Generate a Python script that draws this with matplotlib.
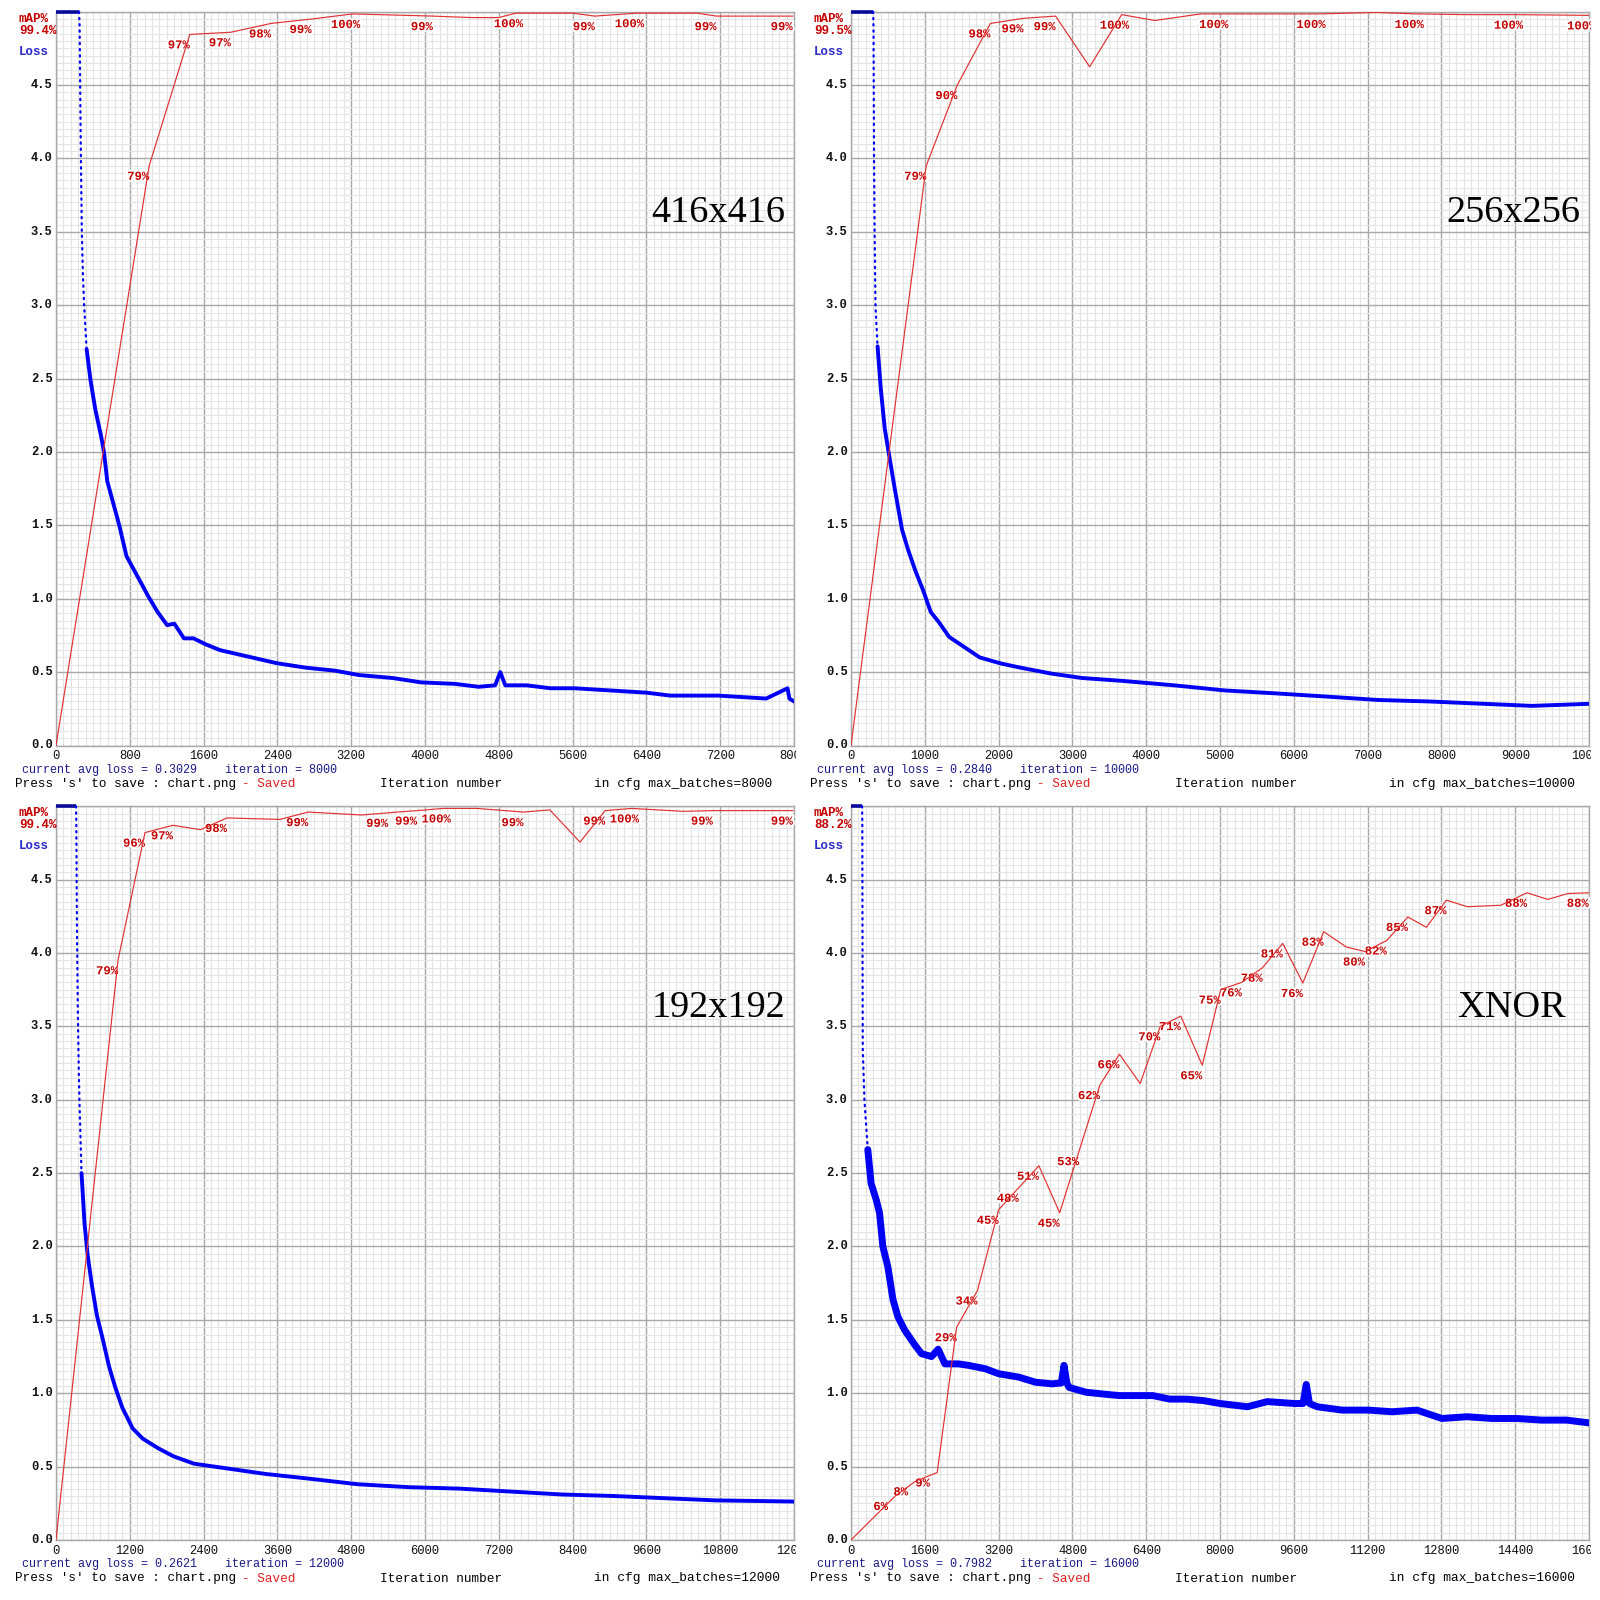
import numpy as np
import matplotlib
matplotlib.use("Agg")
import matplotlib.pyplot as plt
import matplotlib.patheffects as pe
from matplotlib.transforms import Bbox, TransformedBbox

# ---------------- data ----------------
TITLES = ["416x416", "256x256", "192x192", "XNOR"]
MAX_BATCHES = [8000, 10000, 12000, 16000]
CUR_AVG_LOSS = ["0.3029", "0.2840", "0.2621", "0.7982"]

# avg loss (values above 5 are drawn clipped at the top edge)
TL_LOSS_IT = [0, 250, 256, 262, 270, 280, 292, 305, 332, 374,
              426, 488, 520, 556, 608, 686, 764, 842, 920, 997,
              1101, 1205, 1283, 1387, 1491, 1621, 1777, 1984, 2192, 2400,
              2712, 3023, 3283, 3647, 3959, 4322, 4582, 4760, 4816, 4870,
              5101, 5361, 5621, 5881, 6140, 6400, 6660, 6920, 7180, 7439,
              7699, 7930, 7950, 8000]
TL_LOSS = [6.0, 6.0, 4.9, 4.5, 4.0, 3.5, 3.2, 3.0, 2.70, 2.49,
           2.29, 2.11, 2.00, 1.80, 1.68, 1.50, 1.29, 1.20, 1.11, 1.02,
           0.91, 0.82, 0.83, 0.73, 0.73, 0.69, 0.65, 0.62, 0.59, 0.56,
           0.53, 0.51, 0.48, 0.46, 0.43, 0.42, 0.40, 0.41, 0.50, 0.41,
           0.41, 0.39, 0.39, 0.38, 0.37, 0.36, 0.34, 0.34, 0.34, 0.33,
           0.32, 0.39, 0.32, 0.30]

TR_LOSS_IT = [0, 300, 305, 312, 320, 332, 360, 402, 457, 526,
              596, 692, 776, 873, 983, 1080, 1191, 1330, 1537, 1745,
              2022, 2299, 2715, 3130, 3684, 4377, 5069, 5762, 6454, 7147,
              7839, 8532, 9224, 10000]
TR_LOSS = [6.0, 6.0, 4.9, 4.0, 3.5, 2.99, 2.72, 2.44, 2.16, 1.95,
           1.74, 1.47, 1.33, 1.19, 1.05, 0.91, 0.84, 0.74, 0.67, 0.60,
           0.56, 0.53, 0.49, 0.46, 0.44, 0.41, 0.375, 0.355, 0.333, 0.31,
           0.30, 0.285, 0.27, 0.284]

BL_LOSS_IT = [0, 325, 330, 340, 355, 370, 382, 415, 465, 515,
              582, 665, 748, 864, 964, 1080, 1247, 1413, 1662, 1911,
              2244, 2742, 3407, 4072, 4903, 5734, 6565, 7396, 8227, 9058,
              9889, 10720, 12000]
BL_LOSS = [6.0, 6.0, 4.9, 4.2, 3.6, 3.2, 2.98, 2.5, 2.15, 1.94,
           1.74, 1.53, 1.39, 1.18, 1.04, 0.90, 0.76, 0.69, 0.625, 0.57,
           0.52, 0.49, 0.45, 0.42, 0.38, 0.36, 0.35, 0.33, 0.31, 0.30,
           0.285, 0.27, 0.262]

BR_LOSS_IT = [0, 240, 245, 250, 255, 291, 364, 436, 545, 618,
              691, 800, 909, 1018, 1164, 1382, 1527, 1745, 1890, 2036,
              2327, 2545, 2909, 3200, 3636, 4000, 4364, 4560, 4618, 4680,
              4727, 5091, 5455, 5818, 6182, 6545, 6909, 7273, 7636, 8000,
              8595, 9027, 9611, 9800, 9870, 9940, 10108, 10649, 11222, 11730,
              12270, 12811, 13351, 13892, 14432, 14973, 15514, 16000]
BR_LOSS = [6.0, 6.0, 4.9, 4.0, 3.34, 3.0, 2.66, 2.43, 2.32, 2.23,
           2.0, 1.86, 1.64, 1.52, 1.43, 1.33, 1.27, 1.25, 1.30, 1.20,
           1.20, 1.19, 1.167, 1.133, 1.11, 1.075, 1.064, 1.07, 1.19, 1.07,
           1.04, 1.007, 0.995, 0.984, 0.984, 0.984, 0.96, 0.96, 0.95, 0.93,
           0.908, 0.943, 0.93, 0.93, 1.06, 0.93, 0.908, 0.885, 0.885, 0.874,
           0.885, 0.828, 0.84, 0.828, 0.828, 0.817, 0.817, 0.798]

# mAP (%) at evaluation iterations; LAB = 1 where a value label is printed
TL_MAP_IT = [0, 1010, 1450, 1895, 2330, 2770, 3218, 4085, 4500, 4800, 4984, 5600, 5840, 6295, 6950, 7160, 7985]
TL_MAP = [0, 79, 96.9, 97.2, 98.4, 99.0, 99.7, 99.4, 99.2, 99.2, 99.8, 99.8, 99.4, 99.8, 99.8, 99.4, 99.4]
TL_LAB = [0, 1, 1, 1, 1, 1, 1, 1, 0, 0, 1, 0, 1, 1, 0, 1, 1]

TR_MAP_IT = [0, 1019, 1440, 1889, 2337, 2772, 3234, 3668, 4117, 4742, 5014, 6332, 7120, 7663, 8342, 9008, 10000]
TR_MAP = [0, 79, 90, 98.4, 99.1, 99.4, 92.5, 99.6, 98.8, 99.7, 99.7, 99.7, 99.9, 99.7, 99.6, 99.6, 99.5]
TR_LAB = [0, 1, 1, 1, 1, 1, 0, 1, 0, 0, 1, 1, 0, 1, 0, 1, 1]

BL_MAP_IT = [0, 1008, 1447, 1900, 2350, 2780, 3640, 4100, 4970, 5400, 5870, 6300, 6840, 7600, 8030, 8520, 8930, 9360, 10200, 10680, 11980]
BL_MAP = [0, 79, 96.4, 97.4, 96.8, 98.4, 98.2, 99.2, 98.8, 99.1, 99.4, 99.7, 99.7, 99.2, 99.5, 95.1, 99.4, 99.7, 99.3, 99.4, 99.4]
BL_LAB = [0, 1, 1, 1, 0, 1, 0, 1, 0, 1, 1, 1, 0, 1, 0, 0, 1, 1, 0, 1, 1]

BR_MAP_IT = [0, 960, 1396, 1869, 2290, 2742, 3200, 3636, 4073, 4524,
             4945, 5396, 5820, 6269, 6705, 7150, 7615, 8015, 8473, 8924,
             9360, 9796, 10247, 10742, 11142, 11615, 12073, 12473, 12909, 13360,
             14087, 14655, 15105, 15542, 15993]
BR_MAP = [0, 6.0, 8.0, 9.2, 29.0, 34.0, 45.0, 48.0, 51.0, 44.6,
          53.0, 62.0, 66.2, 62.2, 70.0, 71.4, 64.7, 75.0, 76.0, 78.0,
          81.3, 75.9, 82.9, 80.8, 80.2, 81.7, 84.9, 83.5, 87.2, 86.3,
          86.5, 88.2, 87.3, 88.1, 88.2]
BR_LAB = [0, 1, 1, 1, 1, 1, 1, 1, 1, 1,
          1, 1, 1, 0, 1, 1, 1, 1, 1, 1,
          1, 1, 1, 0, 1, 1, 1, 0, 1, 0,
          0, 1, 0, 0, 1]

# ---------------- styling ----------------
W = H = 1600
MONO = "Liberation Mono"
SERIF = "Liberation Serif"
RED_TXT = "#c40000"
RED_LINE = "#e23030"
BLUE = "#0000f5"
NAVY = "#1a1a88"
GRID_MAJ = "#a8a8a8"
GRID_MIN = "#e4e4e4"

plt.rcParams["font.family"] = [MONO, "DejaVu Sans Mono"]

fig = plt.figure(figsize=(16, 16), dpi=100)
fig.patch.set_facecolor("white")


def fx(x):
    return x / W


def fy(y):
    return 1 - y / H


def draw_panel(dx, dy, loss_it, loss, map_it, map_v, lab, max_b, cur_loss,
               title, title_right, band_lw):
    L, R, T, B = 56 + dx, 794 + dx, 11.7 + dy, 745.5 + dy
    clip = TransformedBbox(Bbox.from_extents(fx(dx), fy(dy + 800), fx(R + 1.5), fy(dy)),
                           fig.transFigure)

    ax = fig.add_axes([fx(L), fy(B), (R - L) / W, (B - T) / H])
    ax.set_xlim(0, max_b)
    ax.set_ylim(0, 5)
    step = max_b / 10
    ax.set_xticks(np.arange(0, max_b + 1, step))
    ax.set_xticks(np.arange(0, max_b + 1, step / 10), minor=True)
    ax.set_yticks(np.arange(0, 5.001, 0.5))
    ax.set_yticks(np.arange(0, 5.001, 0.05), minor=True)
    ax.tick_params(which="both", length=0, labelbottom=False, labelleft=False)
    ax.grid(which="minor", color=GRID_MIN, lw=0.8)
    ax.grid(which="major", color=GRID_MAJ, lw=1.0)
    ax.set_axisbelow(True)
    for s in ax.spines.values():
        s.set_color(GRID_MAJ)
        s.set_linewidth(1.0)

    # tick labels
    for v in np.arange(0, 4.51, 0.5):
        ax.annotate(f"{v:.1f}", xy=(0, v), xycoords=("axes fraction", "data"),
                    xytext=(-2.5, 0), textcoords="offset points", ha="right",
                    va="center", fontsize=8.7, fontweight="bold", color="#111111")
    for t in np.arange(0, max_b + 1, step):
        a = ax.annotate(f"{int(t)}", xy=(t, 0), xycoords=("data", "axes fraction"),
                        xytext=(0, -7.6), textcoords="offset points", ha="center",
                        va="center", fontsize=8.7, color="#111111",
                        annotation_clip=False)
        a.set_clip_on(True)
        a.set_clip_box(clip)

    # loss curve: clipped bar at the top, dotted steep drop, dense band after
    li = np.asarray(loss_it, dtype=float)
    lv = np.minimum(np.asarray(loss, dtype=float), 5.0)
    top_end = int(np.nonzero(lv >= 5.0)[0][-1])
    tail_start = int(np.nonzero(lv < 2.8)[0][0])
    ax.plot(li[:top_end + 1], lv[:top_end + 1], color="#0a0a9a", lw=2.6,
            clip_on=False, zorder=3, solid_capstyle="butt")
    ax.plot(li[top_end:tail_start + 1], lv[top_end:tail_start + 1], color=BLUE,
            lw=1.6, linestyle=(0, (0.6, 2.2)), dash_capstyle="round",
            clip_on=False, zorder=3)
    ax.plot(li[tail_start:], lv[tail_start:], color=BLUE, lw=band_lw, zorder=3,
            solid_joinstyle="round", solid_capstyle="round")

    # mAP curve on a 0..100 scale
    ax2 = ax.twinx()
    ax2.set_ylim(0, 100)
    ax2.set_xlim(0, max_b)
    ax2.axis("off")
    ax2.plot(map_it, map_v, color=RED_LINE, lw=0.85, zorder=4)
    for x, v, l in zip(map_it, map_v, lab):
        if l:
            a = ax2.annotate(f"{v:.0f}%", xy=(x, v), xytext=(-15.8, -10.1),
                             textcoords="offset points", ha="left", va="baseline",
                             fontsize=8.8, fontweight="bold", color=RED_TXT,
                             annotation_clip=False,
                             path_effects=[pe.withStroke(linewidth=3, foreground="white")])
            a.set_clip_on(True)
            a.set_clip_box(clip)

    # header at the top left
    fig.text(fx(dx + 19), fy(dy + 22), "mAP%", color=RED_TXT, fontsize=9,
             fontweight="bold", va="baseline")
    fig.text(fx(dx + 19), fy(dy + 34), f"{map_v[-1]:.1f}%", color=RED_TXT,
             fontsize=9, fontweight="bold", va="baseline")
    fig.text(fx(dx + 19), fy(dy + 55), "Loss", color="#2a2ac8", fontsize=9,
             fontweight="bold", va="baseline")

    # bottom texts
    fig.text(fx(dx + 22), fy(dy + 770),
             f"current avg loss = {cur_loss}    iteration = {max_b}",
             color=NAVY, fontsize=8.5, va="center")
    t1 = fig.text(fx(dx + 15), fy(dy + 784), "Press 's' to save : chart.png",
                  color="black", fontsize=9.1, va="center")
    ax.annotate("- Saved", xy=(1, 0.5), xycoords=t1, xytext=(4.5, 0),
                textcoords="offset points", ha="left", va="center",
                color="#e02020", fontsize=9.1, annotation_clip=False)
    fig.text(fx(dx + 380), fy(dy + 784), "Iteration number", color="black",
             fontsize=9.2, va="center")
    fig.text(fx(dx + 594), fy(dy + 784), f"in cfg max_batches={max_b}",
             color="black", fontsize=9.3, va="center")

    # big label
    fig.text(fx(dx + title_right), fy(dy + 213), title, ha="right", va="center",
             family=SERIF, fontsize=27.5, color="black")


draw_panel(0, 0, TL_LOSS_IT, TL_LOSS, TL_MAP_IT, TL_MAP, TL_LAB,
           MAX_BATCHES[0], CUR_AVG_LOSS[0], TITLES[0], 785, 2.8)
draw_panel(795, 0, TR_LOSS_IT, TR_LOSS, TR_MAP_IT, TR_MAP, TR_LAB,
           MAX_BATCHES[1], CUR_AVG_LOSS[1], TITLES[1], 785, 2.8)
draw_panel(0, 794.5, BL_LOSS_IT, BL_LOSS, BL_MAP_IT, BL_MAP, BL_LAB,
           MAX_BATCHES[2], CUR_AVG_LOSS[2], TITLES[2], 785, 2.8)
draw_panel(795, 794.5, BR_LOSS_IT, BR_LOSS, BR_MAP_IT, BR_MAP, BR_LAB,
           MAX_BATCHES[3], CUR_AVG_LOSS[3], TITLES[3], 771, 5.0)

fig.savefig("out.png", dpi=100, facecolor="white")
